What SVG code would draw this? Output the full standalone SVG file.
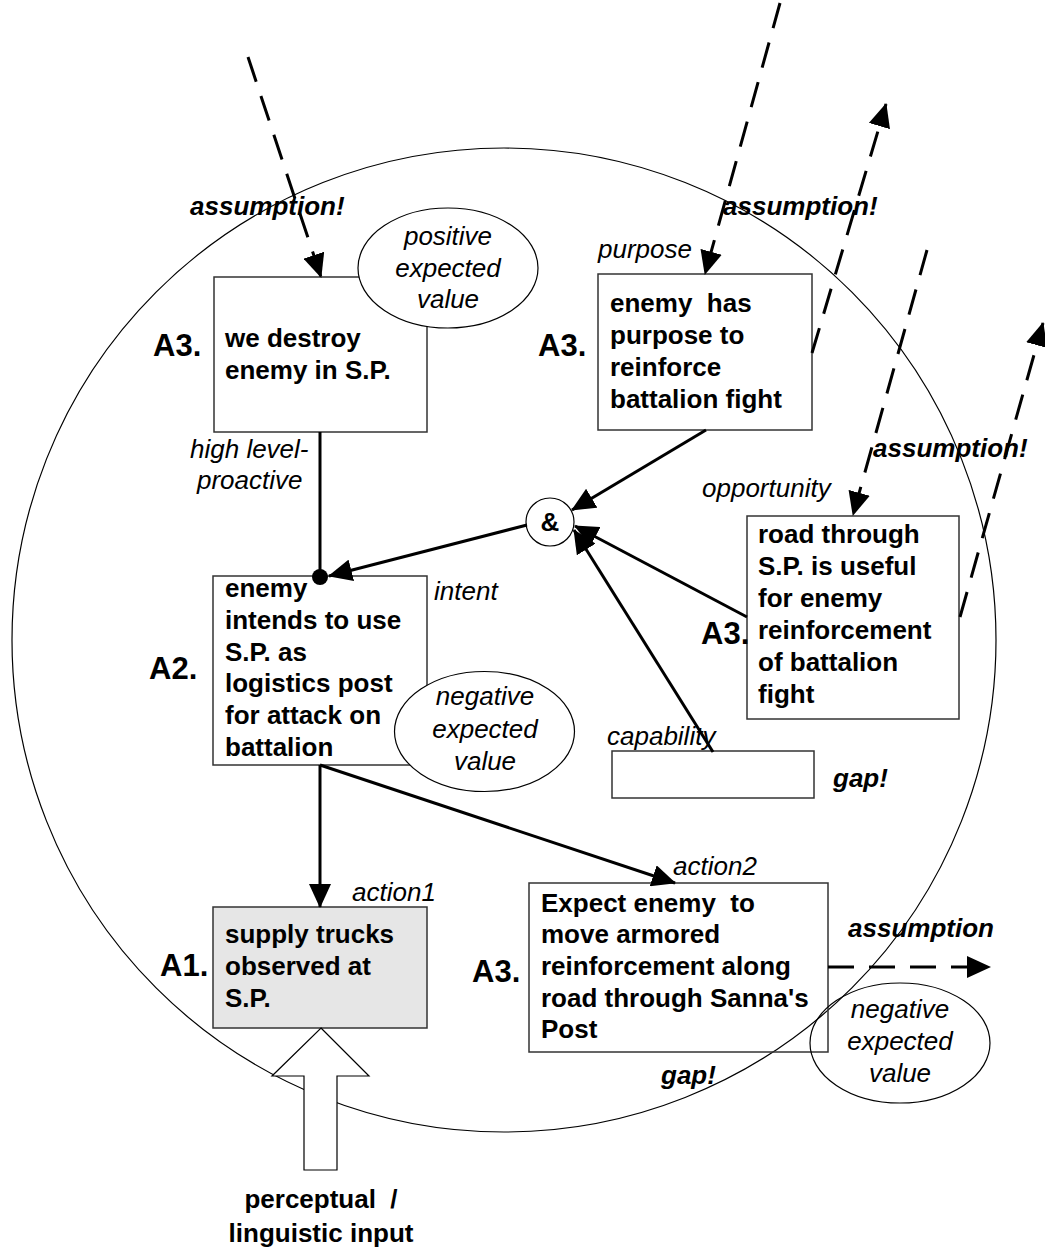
<svg xmlns="http://www.w3.org/2000/svg" width="1045" height="1247" viewBox="0 0 1045 1247">
  <defs>
    <marker id="ah" viewBox="0 0 24 22" markerWidth="24" markerHeight="22" refX="23" refY="11" orient="auto" markerUnits="userSpaceOnUse">
      <path d="M0,0 L24,11 L0,22 z" fill="#000"/>
    </marker>
  </defs>
  <style>
    text { font-family: "Liberation Sans", Arial, sans-serif; font-size: 26px; fill: #000; white-space: pre; }
    .b { font-weight: bold; }
    .i { font-style: italic; }
    .bi { font-weight: bold; font-style: italic; }
    .lvl { font-weight: bold; font-size: 31px; }
    .mid { text-anchor: middle; }
    .box { fill: none; stroke: #333; stroke-width: 1.5; }
    .ell { fill: #fff; stroke: #000; stroke-width: 1.2; }
    .con { fill: none; stroke: #000; stroke-width: 3; }
    .dash { fill: none; stroke: #000; stroke-width: 3; stroke-dasharray: 26 15; }
  </style>

  <rect width="1045" height="1247" fill="#fff"/>

  <!-- situation boundary -->
  <circle id="boundary" cx="504" cy="640" r="492" fill="none" stroke="#000" stroke-width="1.2"/>

  <!-- A3: we destroy enemy -->
  <g id="n-destroy">
    <rect class="box" x="214" y="277" width="213" height="155" fill="#fff"/>
    <text class="lvl" x="153" y="356">A3.</text>
    <text class="b" x="225" y="347">we destroy</text>
    <text class="b" x="225" y="379">enemy in S.P.</text>
  </g>
  <g id="n-positive">
    <ellipse class="ell" cx="448" cy="268" rx="90" ry="60"/>
    <text class="i mid" x="448" y="245">positive</text>
    <text class="i mid" x="448" y="277">expected</text>
    <text class="i mid" x="448" y="308">value</text>
  </g>

  <!-- A3: enemy purpose -->
  <g id="n-purpose">
    <rect class="box" x="598" y="274" width="214" height="156"/>
    <text class="lvl" x="538" y="356">A3.</text>
    <text class="i" x="598" y="258">purpose</text>
    <text class="b" x="610" y="312">enemy  has</text>
    <text class="b" x="610" y="344">purpose to</text>
    <text class="b" x="610" y="376">reinforce</text>
    <text class="b" x="610" y="408">battalion fight</text>
  </g>

  <!-- A3: opportunity -->
  <g id="n-opportunity">
    <rect class="box" x="747" y="516" width="212" height="203"/>
    <text class="lvl" x="701" y="644">A3.</text>
    <text class="i" x="702" y="497">opportunity</text>
    <text class="b" x="758" y="543">road through</text>
    <text class="b" x="758" y="575">S.P. is useful</text>
    <text class="b" x="758" y="607">for enemy</text>
    <text class="b" x="758" y="639">reinforcement</text>
    <text class="b" x="758" y="671">of battalion</text>
    <text class="b" x="758" y="703">fight</text>
  </g>

  <!-- capability (empty) -->
  <g id="n-capability">
    <rect class="box" x="612" y="751" width="202" height="47"/>
    <text class="i" x="607" y="745">capability</text>
    <text class="bi" x="833" y="787">gap!</text>
  </g>

  <!-- A2: intent -->
  <g id="n-intent">
    <rect class="box" x="213" y="576" width="214" height="189"/>
    <text class="lvl" x="149" y="679">A2.</text>
    <text class="i" x="434" y="600">intent</text>
    <text class="b" x="225" y="597">enemy</text>
    <text class="b" x="225" y="629">intends to use</text>
    <text class="b" x="225" y="661">S.P. as</text>
    <text class="b" x="225" y="692">logistics post</text>
    <text class="b" x="225" y="724">for attack on</text>
    <text class="b" x="225" y="756">battalion</text>
  </g>
  <g id="n-negative1">
    <ellipse class="ell" cx="484.5" cy="731.5" rx="90" ry="60"/>
    <text class="i mid" x="485" y="705">negative</text>
    <text class="i mid" x="485" y="738">expected</text>
    <text class="i mid" x="485" y="770">value</text>
  </g>

  <!-- A1: observation -->
  <g id="n-observed">
    <rect x="213" y="907" width="214" height="121" fill="#e6e6e6" stroke="#333" stroke-width="1.5"/>
    <text class="lvl" x="160" y="976">A1.</text>
    <text class="i" x="352" y="901">action1</text>
    <text class="b" x="225" y="943">supply trucks</text>
    <text class="b" x="225" y="975">observed at</text>
    <text class="b" x="225" y="1007">S.P.</text>
  </g>

  <!-- A3: expectation -->
  <g id="n-expect">
    <rect class="box" x="529" y="883" width="299" height="169"/>
    <text class="lvl" x="472" y="982">A3.</text>
    <text class="i" x="673" y="875">action2</text>
    <text class="b" x="541" y="912">Expect enemy  to</text>
    <text class="b" x="541" y="943">move armored</text>
    <text class="b" x="541" y="975">reinforcement along</text>
    <text class="b" x="541" y="1007">road through Sanna's</text>
    <text class="b" x="541" y="1038">Post</text>
    <text class="bi" x="661" y="1084">gap!</text>
  </g>
  <g id="n-negative2">
    <ellipse cx="900" cy="1043" rx="90" ry="60" fill="none" stroke="#000" stroke-width="1.2"/>
    <text class="i mid" x="900" y="1018">negative</text>
    <text class="i mid" x="900" y="1050">expected</text>
    <text class="i mid" x="900" y="1082">value</text>
  </g>

  <!-- conjunction node -->
  <g id="n-and">
    <circle cx="550" cy="522" r="24" fill="#fff" stroke="#000" stroke-width="1.2"/>
    <text class="b mid" x="550" y="531">&amp;</text>
  </g>

  <!-- perceptual input -->
  <g id="n-input">
    <polygon points="321,1028 369,1076 337,1076 337,1170 304,1170 304,1076 272,1076" fill="#fff" stroke="#000" stroke-width="1.2"/>
    <text class="b mid" x="321" y="1208">perceptual  /</text>
    <text class="b mid" x="321" y="1242">linguistic input</text>
  </g>

  <g id="connectors">
    <!-- solid links -->
    <line class="con" x1="320" y1="432" x2="320" y2="577"/>
    <circle cx="320" cy="577" r="8" fill="#000"/>
    <line class="con" x1="527" y1="525" x2="329" y2="576" marker-end="url(#ah)"/>
    <line class="con" x1="706" y1="430" x2="572" y2="510" marker-end="url(#ah)"/>
    <line class="con" x1="747" y1="617" x2="575" y2="526" marker-end="url(#ah)"/>
    <line class="con" x1="713" y1="752" x2="574" y2="530" marker-end="url(#ah)"/>
    <line class="con" x1="320" y1="765" x2="320" y2="907" marker-end="url(#ah)"/>
    <line class="con" x1="320" y1="765" x2="675" y2="883" marker-end="url(#ah)"/>

    <!-- dashed assumption links -->
    <line class="dash" x1="248" y1="57" x2="321" y2="277" marker-end="url(#ah)"/>
    <line class="dash" x1="780" y1="3" x2="705" y2="274" marker-end="url(#ah)"/>
    <line class="dash" x1="812" y1="353" x2="886" y2="104" marker-end="url(#ah)"/>
    <line class="dash" x1="927" y1="250" x2="853" y2="515" marker-end="url(#ah)"/>
    <line class="dash" x1="960" y1="617" x2="1043" y2="323" marker-end="url(#ah)"/>
    <line class="dash" x1="828" y1="967" x2="990" y2="967" marker-end="url(#ah)"/>
  </g>

  <!-- assumption labels -->
  <text class="bi" x="190" y="215">assumption!</text>
  <text class="bi" x="723" y="215">assumption!</text>
  <text class="bi" x="873" y="457">assumption!</text>
  <text class="bi" x="848" y="937">assumption</text>

  <!-- link labels -->
  <text class="i" x="190" y="458">high level-</text>
  <text class="i" x="197" y="489">proactive</text>
</svg>
